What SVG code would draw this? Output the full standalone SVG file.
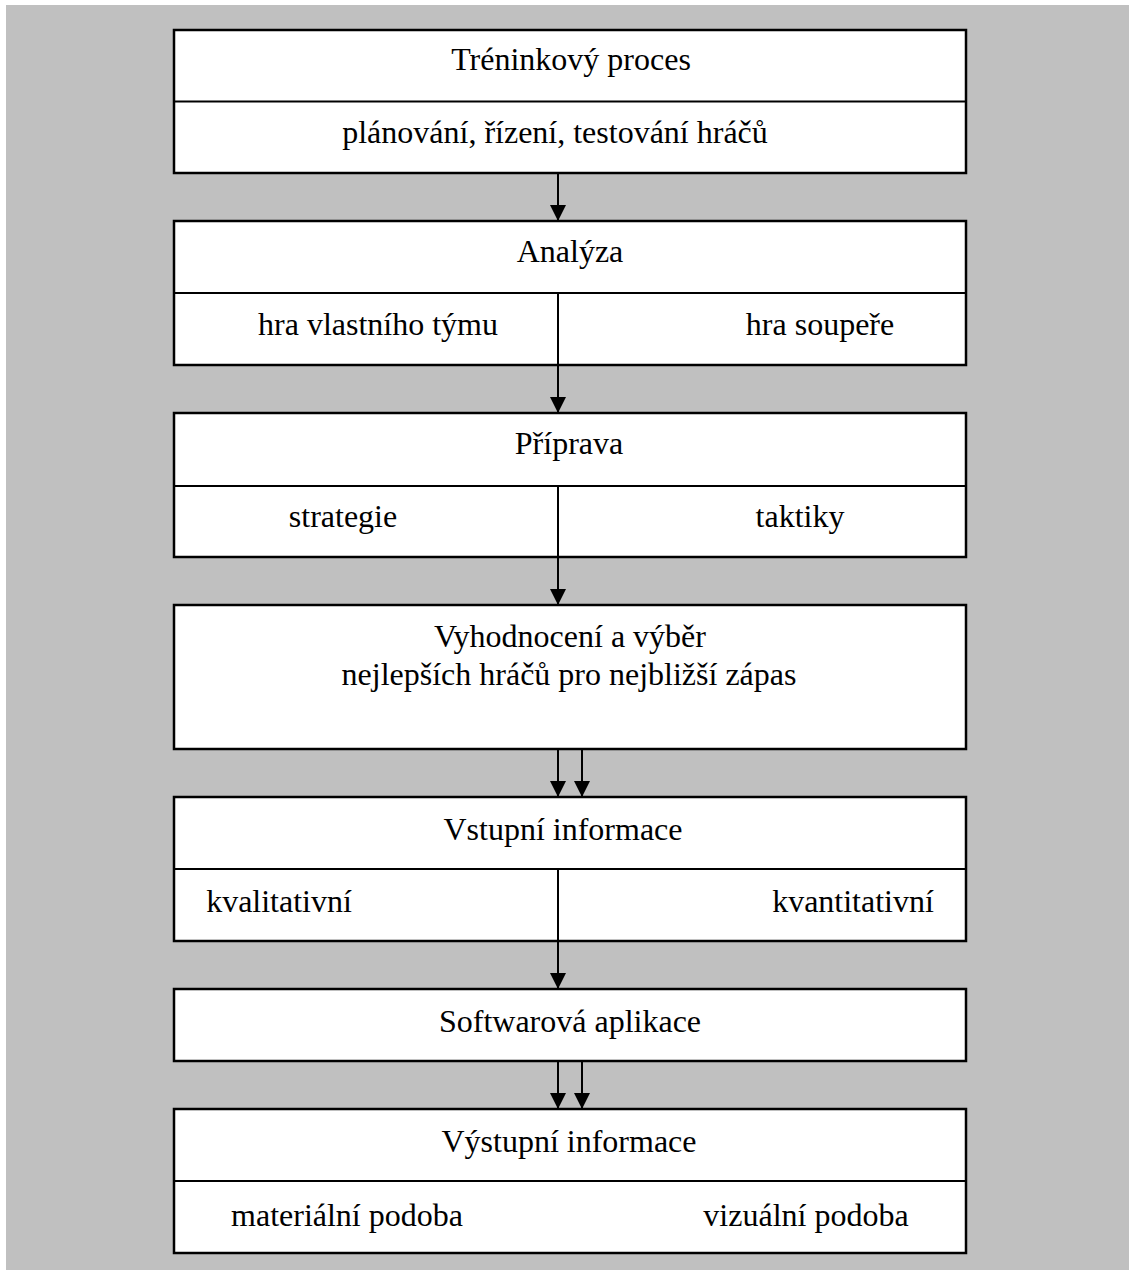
<svg xmlns="http://www.w3.org/2000/svg" width="1129" height="1270" viewBox="0 0 1129 1270">
<defs>
<style>
.box{fill:#fff;stroke:#000;stroke-width:2.5}
.ln{stroke:#000;stroke-width:2;fill:none}
.t{font-family:"Liberation Serif","Times New Roman",serif;font-size:32px;fill:#000;text-anchor:middle}
</style>
<marker id="ah" viewBox="0 0 16 16" refX="16" refY="8" markerWidth="16" markerHeight="16" markerUnits="userSpaceOnUse" orient="auto"><path d="M0,0 L16,8 L0,16 Z" fill="#000"/></marker>
</defs>
<rect x="6" y="5" width="1123" height="1265" fill="#c0c0c0"/>
<g id="n1"><rect class="box" x="174" y="30" width="792" height="143"/><line class="ln" x1="174" y1="101.5" x2="966" y2="101.5"/>
<text class="t" x="571" y="70">Tréninkový proces</text><text class="t" x="555" y="143">plánování, řízení, testování hráčů</text></g>
<g id="n2"><rect class="box" x="174" y="221" width="792" height="144"/><line class="ln" x1="174" y1="293" x2="966" y2="293"/>
<text class="t" x="570" y="262">Analýza</text><text class="t" x="378" y="335">hra vlastního týmu</text><text class="t" x="820" y="335">hra soupeře</text></g>
<g id="n3"><rect class="box" x="174" y="413" width="792" height="144"/><line class="ln" x1="174" y1="486" x2="966" y2="486"/>
<text class="t" x="569" y="454">Příprava</text><text class="t" x="343" y="527">strategie</text><text class="t" x="800" y="527">taktiky</text></g>
<g id="n4"><rect class="box" x="174" y="605" width="792" height="144"/>
<text class="t" x="570" y="647">Vyhodnocení a výběr</text><text class="t" x="569" y="685">nejlepších hráčů pro nejbližší zápas</text></g>
<g id="n5"><rect class="box" x="174" y="797" width="792" height="144"/><line class="ln" x1="174" y1="869" x2="966" y2="869"/>
<text class="t" x="563" y="840">Vstupní informace</text><text class="t" x="279" y="912">kvalitativní</text><text class="t" x="853" y="912">kvantitativní</text></g>
<g id="n6"><rect class="box" x="174" y="989" width="792" height="72"/>
<text class="t" x="570" y="1032">Softwarová aplikace</text></g>
<g id="n7"><rect class="box" x="174" y="1109" width="792" height="144"/><line class="ln" x1="174" y1="1181" x2="966" y2="1181"/>
<text class="t" x="569" y="1152">Výstupní informace</text><text class="t" x="347" y="1226">materiální podoba</text><text class="t" x="806" y="1226">vizuální podoba</text></g>
<g id="connectors">
<line class="ln" x1="558" y1="173" x2="558" y2="221" marker-end="url(#ah)"/>
<line class="ln" x1="558" y1="293" x2="558" y2="413" marker-end="url(#ah)"/>
<line class="ln" x1="558" y1="486" x2="558" y2="605" marker-end="url(#ah)"/>
<line class="ln" x1="558" y1="749" x2="558" y2="797" marker-end="url(#ah)"/>
<line class="ln" x1="582" y1="749" x2="582" y2="797" marker-end="url(#ah)"/>
<line class="ln" x1="558" y1="869" x2="558" y2="989" marker-end="url(#ah)"/>
<line class="ln" x1="558" y1="1061" x2="558" y2="1109" marker-end="url(#ah)"/>
<line class="ln" x1="582" y1="1061" x2="582" y2="1109" marker-end="url(#ah)"/>
</g>
</svg>
